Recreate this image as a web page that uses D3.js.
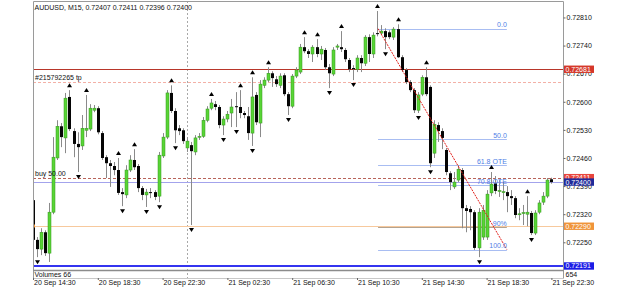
<!DOCTYPE html>
<html>
<head>
<meta charset="utf-8">
<script src="https://cdn.jsdelivr.net/npm/d3@7/dist/d3.min.js"></script>
<style>
  body { margin: 0; background: #fff; }
  svg { display: block; }
  text { font-family: "Liberation Sans", Arial, sans-serif; font-size: 7px; fill: #111; }
</style>
</head>
<body>
<svg id="chart" width="625" height="289"></svg>
<script>
'use strict';

const symbolTitle = 'AUDUSD, M15, 0.72407 0.72411 0.72396 0.72400';

// M15 bars, 20 Sep 14:30 .. 21 Sep 22:30
const opens = [
  0.72355, 0.72256, 0.72233, 0.72275, 0.72223, 0.72325, 0.72460, 0.72539, 0.72510, 0.72612,
  0.72527, 0.72495, 0.72490, 0.72529, 0.72532, 0.72579, 0.72584, 0.72522, 0.72462, 0.72447,
  0.72440, 0.72430, 0.72375, 0.72368, 0.72430, 0.72455, 0.72440, 0.72385, 0.72368, 0.72375,
  0.72375, 0.72365, 0.72465, 0.72512, 0.72622, 0.72577, 0.72534, 0.72529, 0.72485, 0.72492,
  0.72475, 0.72512, 0.72514, 0.72554, 0.72584, 0.72594, 0.72587, 0.72542, 0.72557, 0.72572,
  0.72589, 0.72587, 0.72572, 0.72564, 0.72522, 0.72617, 0.72547, 0.72641, 0.72654, 0.72671,
  0.72656, 0.72641, 0.72666, 0.72619, 0.72589, 0.72664, 0.72674, 0.72736, 0.72726, 0.72719,
  0.72736, 0.72719, 0.72729, 0.72686, 0.72669, 0.72736, 0.72736, 0.72729, 0.72704, 0.72684,
  0.72681, 0.72709, 0.72696, 0.72761, 0.72719, 0.72771, 0.72771, 0.72776, 0.72773, 0.72761,
  0.72781, 0.72711, 0.72679, 0.72649, 0.72629, 0.72579, 0.72619, 0.72661, 0.72637, 0.72472,
  0.72542, 0.72527, 0.72480, 0.72422, 0.72388, 0.72405, 0.72430, 0.72335, 0.72333, 0.72325,
  0.72236, 0.72263, 0.72263, 0.72373, 0.72397, 0.72378, 0.72375, 0.72375, 0.72365, 0.72360,
  0.72320, 0.72323, 0.72320, 0.72323, 0.72273, 0.72325, 0.72350, 0.72365, 0.72407
];
const highs = [
  0.72363, 0.72263, 0.72285, 0.72280, 0.72348, 0.72512, 0.72554, 0.72547, 0.72622, 0.72629,
  0.72534, 0.72524, 0.72567, 0.72617, 0.72594, 0.72592, 0.72589, 0.72527, 0.72467, 0.72455,
  0.72450, 0.72460, 0.72385, 0.72442, 0.72467, 0.72482, 0.72445, 0.72390, 0.72383, 0.72385,
  0.72380, 0.72475, 0.72522, 0.72629, 0.72641, 0.72584, 0.72542, 0.72534, 0.72512, 0.72500,
  0.72517, 0.72522, 0.72562, 0.72589, 0.72607, 0.72602, 0.72592, 0.72564, 0.72577, 0.72607,
  0.72624, 0.72629, 0.72577, 0.72587, 0.72661, 0.72624, 0.72654, 0.72661, 0.72686, 0.72676,
  0.72664, 0.72671, 0.72671, 0.72624, 0.72669, 0.72686, 0.72744, 0.72761, 0.72731, 0.72741,
  0.72756, 0.72739, 0.72734, 0.72694, 0.72736, 0.72744, 0.72776, 0.72734, 0.72709, 0.72691,
  0.72716, 0.72716, 0.72766, 0.72768, 0.72773, 0.72826, 0.72791, 0.72783, 0.72778, 0.72786,
  0.72793, 0.72716, 0.72684, 0.72654, 0.72634, 0.72624, 0.72666, 0.72686, 0.72641, 0.72554,
  0.72549, 0.72534, 0.72485, 0.72427, 0.72425, 0.72442, 0.72435, 0.72343, 0.72340, 0.72330,
  0.72335, 0.72343, 0.72380, 0.72425, 0.72415, 0.72405, 0.72400, 0.72390, 0.72380, 0.72365,
  0.72335, 0.72343, 0.72365, 0.72328, 0.72330, 0.72355, 0.72375, 0.72410, 0.72411
];
const lows = [
  0.72248, 0.72213, 0.72218, 0.72216, 0.72201, 0.72320, 0.72455, 0.72487, 0.72472, 0.72527,
  0.72462, 0.72425, 0.72480, 0.72512, 0.72527, 0.72574, 0.72519, 0.72455, 0.72410, 0.72388,
  0.72417, 0.72368, 0.72340, 0.72360, 0.72425, 0.72430, 0.72375, 0.72355, 0.72338, 0.72360,
  0.72355, 0.72350, 0.72460, 0.72507, 0.72572, 0.72497, 0.72517, 0.72495, 0.72475, 0.72293,
  0.72467, 0.72505, 0.72510, 0.72549, 0.72579, 0.72579, 0.72534, 0.72517, 0.72549, 0.72537,
  0.72537, 0.72559, 0.72559, 0.72505, 0.72490, 0.72542, 0.72512, 0.72634, 0.72649, 0.72637,
  0.72637, 0.72634, 0.72614, 0.72567, 0.72584, 0.72659, 0.72669, 0.72721, 0.72709, 0.72699,
  0.72711, 0.72704, 0.72679, 0.72634, 0.72664, 0.72729, 0.72724, 0.72699, 0.72674, 0.72654,
  0.72674, 0.72674, 0.72689, 0.72699, 0.72709, 0.72763, 0.72766, 0.72731, 0.72756, 0.72754,
  0.72709, 0.72674, 0.72644, 0.72624, 0.72572, 0.72572, 0.72614, 0.72614, 0.72437, 0.72460,
  0.72500, 0.72482, 0.72417, 0.72380, 0.72383, 0.72400, 0.72285, 0.72275, 0.72280, 0.72231,
  0.72213, 0.72256, 0.72256, 0.72365, 0.72370, 0.72363, 0.72355, 0.72325, 0.72343, 0.72310,
  0.72305, 0.72293, 0.72290, 0.72268, 0.72268, 0.72320, 0.72343, 0.72360, 0.72396
];
const closes = [
  0.72256, 0.72233, 0.72275, 0.72223, 0.72325, 0.72462, 0.72539, 0.72512, 0.72609, 0.72532,
  0.72495, 0.72487, 0.72534, 0.72534, 0.72584, 0.72584, 0.72524, 0.72460, 0.72447, 0.72440,
  0.72430, 0.72373, 0.72370, 0.72430, 0.72455, 0.72437, 0.72385, 0.72368, 0.72375, 0.72373,
  0.72363, 0.72467, 0.72512, 0.72622, 0.72577, 0.72529, 0.72527, 0.72502, 0.72502, 0.72477,
  0.72510, 0.72514, 0.72554, 0.72582, 0.72597, 0.72587, 0.72542, 0.72557, 0.72569, 0.72587,
  0.72588, 0.72572, 0.72567, 0.72522, 0.72612, 0.72549, 0.72644, 0.72654, 0.72671, 0.72659,
  0.72644, 0.72664, 0.72619, 0.72589, 0.72664, 0.72679, 0.72736, 0.72726, 0.72719, 0.72736,
  0.72719, 0.72731, 0.72686, 0.72671, 0.72729, 0.72739, 0.72731, 0.72706, 0.72681, 0.72681,
  0.72709, 0.72696, 0.72761, 0.72719, 0.72766, 0.72770, 0.72776, 0.72761, 0.72761, 0.72781,
  0.72711, 0.72679, 0.72649, 0.72629, 0.72579, 0.72617, 0.72661, 0.72619, 0.72447, 0.72544,
  0.72527, 0.72510, 0.72425, 0.72400, 0.72400, 0.72432, 0.72335, 0.72328, 0.72325, 0.72236,
  0.72325, 0.72330, 0.72370, 0.72395, 0.72378, 0.72379, 0.72376, 0.72365, 0.72360, 0.72318,
  0.72321, 0.72324, 0.72325, 0.72273, 0.72323, 0.72348, 0.72365, 0.72405, 0.72400
];

const upFractals = [9, 13, 21, 25, 34, 44, 51, 54, 58, 67, 70, 76, 85, 90, 97, 113, 122];
const downFractals = [1, 11, 22, 28, 31, 35, 39, 47, 50, 54, 63, 73, 79, 87, 95, 98, 110, 123];

const priceTicks = [0.72810, 0.72740, 0.72670, 0.72600, 0.72530, 0.72460, 0.72390, 0.72320, 0.72250];
const timeTickBars = [0, 16, 32, 48, 64, 80, 96, 112, 128];
const timeLabels = ['20 Sep 14:30', '20 Sep 18:30', '20 Sep 22:30', '21 Sep 02:30', '21 Sep 06:30',
                    '21 Sep 10:30', '21 Sep 14:30', '21 Sep 18:30', '21 Sep 22:30'];
const daySeparatorBar = 38;

const levelPrices = [0.72681, 0.72650, 0.72411, 0.72400, 0.72290, 0.72191];
const levelTags = ['', '#215792265 tp', 'buy 50.00', '', '', ''];

const fibRatios = [0, 50, 61.8, 70.8, 90, 100];
const fibLabels = ['0.0', '50.0', '61.8 OTE', '70.8 OTE', '90%', '100.0'];
const fibBars = [85.2, 117];
const fibPrices = [0.72782, 0.72232];

const volumeTitle = 'Volumes 66';
const volumeMax = 654;

const plotLeft = 33;
const plotRight = 563;
const plotTop = 1;
const mainBottom = 270;
const plotBottom = 278;
const lastBarX = 551.4;

const levelStyle = [
  {stroke: '#b8362a', dash: null, width: 1, box: '#d5382a'},
  {stroke: '#f3b0a6', dash: '3,2', width: 1, box: null},
  {stroke: '#b8645a', dash: '3,2', width: 1, box: '#e8453c'},
  {stroke: '#a3a3ec', dash: null, width: 1, box: '#1f2a9a'},
  {stroke: '#f7c99d', dash: null, width: 1, box: '#f0943a'},
  {stroke: '#3434f0', dash: null, width: 2, box: '#1c1ce6'}
];

const svg = d3.select('#chart');
const x = d3.scaleLinear().domain([0, opens.length - 1]).range([plotLeft, lastBarX]);
const y = d3.scaleLinear().domain([0.72181, 0.72851]).range([mainBottom, plotTop]);
const px = v => Math.round(v) + 0.5;

svg.append('defs').append('clipPath').attr('id', 'plotClip')
  .append('rect')
  .attr('x', plotLeft).attr('y', plotTop)
  .attr('width', plotRight - plotLeft).attr('height', mainBottom - plotTop);

// day separator
svg.append('line')
  .attr('x1', px(x(daySeparatorBar))).attr('x2', px(x(daySeparatorBar)))
  .attr('y1', plotTop).attr('y2', plotBottom)
  .attr('stroke', '#a8a8a8').attr('stroke-dasharray', '2,2');

const plot = svg.append('g').attr('clip-path', 'url(#plotClip)');

// horizontal levels
levelPrices.forEach((p, i) => {
  const st = levelStyle[i];
  plot.append('line')
    .attr('x1', plotLeft).attr('x2', plotRight)
    .attr('y1', st.width === 2 ? Math.round(y(p)) : px(y(p)))
    .attr('y2', st.width === 2 ? Math.round(y(p)) : px(y(p)))
    .attr('stroke', st.stroke)
    .attr('stroke-width', st.width)
    .attr('stroke-dasharray', st.dash);
  if (levelTags[i]) {
    svg.append('text')
      .attr('x', plotLeft + 2)
      .attr('y', y(p) - 1.5)
      .text(levelTags[i]);
  }
});

// fibonacci lines
const fibX1 = x(fibBars[0]);
const fibX2 = x(fibBars[1]);
const fibLevelPrice = r => fibPrices[0] - (fibPrices[0] - fibPrices[1]) * r / 100;
fibRatios.forEach(r => {
  const p = fibLevelPrice(r);
  plot.append('line')
    .attr('x1', fibX1).attr('x2', fibX2)
    .attr('y1', px(y(p))).attr('y2', px(y(p)))
    .attr('stroke', r === 90 ? '#b3a391' : '#a8bdf2');
});

// candles
const bars = opens.map((o, i) => ({i: i, o: o, h: highs[i], l: lows[i], c: closes[i]}));
const candles = plot.selectAll('.candle')
  .data(bars)
  .enter()
  .append('g')
  .attr('class', 'candle');
candles.append('line')
  .attr('x1', d => Math.round(x(d.i)) + 0.5)
  .attr('x2', d => Math.round(x(d.i)) + 0.5)
  .attr('y1', d => y(d.h))
  .attr('y2', d => y(d.l))
  .attr('stroke', '#8a8a8a');
candles.append('rect')
  .attr('x', d => Math.round(x(d.i)) - 1)
  .attr('width', 3)
  .attr('y', d => y(Math.max(d.o, d.c)))
  .attr('height', d => Math.max(1, Math.abs(y(d.o) - y(d.c))))
  .attr('fill', d => d.c > d.o ? '#58d536' : '#050505')
  .attr('stroke', d => d.c > d.o ? '#36961f' : 'none')
  .attr('stroke-width', 0.5);

// fractal arrows
plot.selectAll('.upArrow')
  .data(upFractals)
  .enter()
  .append('path')
  .attr('class', 'upArrow')
  .attr('d', i => {
    const cx = Math.round(x(i)) + 0.5;
    const cy = y(highs[i]) - 5;
    return `M ${cx - 2.5} ${cy + 2} L ${cx + 2.5} ${cy + 2} L ${cx} ${cy - 2} Z`;
  })
  .attr('fill', '#000');
plot.selectAll('.downArrow')
  .data(downFractals)
  .enter()
  .append('path')
  .attr('class', 'downArrow')
  .attr('d', i => {
    const cx = Math.round(x(i)) + 0.5;
    const cy = y(lows[i]) + 5;
    return `M ${cx - 2.5} ${cy - 2} L ${cx + 2.5} ${cy - 2} L ${cx} ${cy + 2} Z`;
  })
  .attr('fill', '#000');

// trendline between the fib anchors
plot.append('line')
  .attr('x1', fibX1).attr('y1', y(fibPrices[0]))
  .attr('x2', fibX2).attr('y2', y(fibPrices[1]))
  .attr('stroke', '#e3201b')
  .attr('stroke-dasharray', '2,1');

// fib labels drawn over the candles
fibRatios.forEach((r, i) => {
  plot.append('text')
    .attr('x', fibX2)
    .attr('y', y(fibLevelPrice(r)) - 1.5)
    .attr('text-anchor', 'end')
    .style('fill', '#4f80e6')
    .text(fibLabels[i]);
});

// small orange marker
plot.append('rect')
  .attr('x', plotLeft).attr('y', Math.round(y(levelPrices[4])) - 1.5)
  .attr('width', 2).attr('height', 3).attr('fill', '#f0943a');

// frame
svg.append('path')
  .attr('d', `M ${plotLeft + 0.5} ${plotBottom} V ${plotTop + 0.5} H ${plotRight + 0.5} V ${plotBottom}`)
  .attr('fill', 'none').attr('stroke', '#9a9a9a');
svg.append('line')
  .attr('x1', plotLeft).attr('x2', plotRight + 1)
  .attr('y1', mainBottom + 0.5).attr('y2', mainBottom + 0.5)
  .attr('stroke', '#8c8c8c').attr('stroke-width', 1.3);
svg.append('line')
  .attr('x1', plotLeft).attr('x2', plotRight + 1)
  .attr('y1', plotBottom + 0.5).attr('y2', plotBottom + 0.5)
  .attr('stroke', '#c8c8c8');

// price axis
const yAxis = d3.axisRight(y)
  .tickValues(priceTicks)
  .tickFormat(d3.format('.5f'))
  .tickSize(2)
  .tickPadding(1);
const yAxisG = svg.append('g')
  .attr('transform', `translate(${plotRight + 0.5},0)`)
  .call(yAxis);
yAxisG.select('.domain').remove();
yAxisG.attr('font-size', null).attr('font-family', null);
yAxisG.selectAll('line').attr('stroke', '#666');

// time axis
const xAxis = d3.axisBottom(x)
  .tickValues(timeTickBars)
  .tickFormat((d, i) => timeLabels[i])
  .tickSize(2)
  .tickPadding(0);
const xAxisG = svg.append('g')
  .attr('transform', `translate(0,${plotBottom})`)
  .call(xAxis);
xAxisG.select('.domain').remove();
xAxisG.attr('font-size', null).attr('font-family', null);
xAxisG.selectAll('line').attr('stroke', '#666');
xAxisG.selectAll('text').attr('text-anchor', 'start').attr('x', 0.5);

// price boxes on the right scale
levelPrices.forEach((p, i) => {
  const st = levelStyle[i];
  if (!st.box) return;
  const cy = y(p);
  svg.append('rect')
    .attr('x', plotRight + 1).attr('y', cy - 3.7)
    .attr('width', 30).attr('height', 7.4)
    .attr('fill', st.box);
  svg.append('text')
    .attr('x', plotRight + 2.5).attr('y', cy + 2.5)
    .style('fill', '#fff')
    .text(d3.format('.5f')(p));
});

// titles
svg.append('text').attr('x', plotLeft + 1.5).attr('y', 9.5).text(symbolTitle);
svg.append('text').attr('x', plotLeft + 1.5).attr('y', 277).text(volumeTitle);
svg.append('text').attr('x', plotRight + 2.5).attr('y', 276.5).text(volumeMax);
</script>
</body>
</html>
